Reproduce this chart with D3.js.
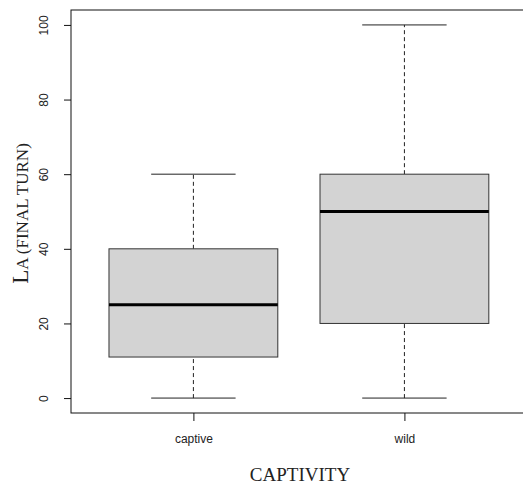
<!DOCTYPE html>
<html>
<head>
<meta charset="utf-8">
<script src="https://cdn.jsdelivr.net/npm/d3@7/dist/d3.min.js"></script>
<style>
  html, body { margin: 0; padding: 0; background: #fff; }
  svg { display: block; }
</style>
</head>
<body>
<svg id="chart" width="523" height="486"></svg>
<script>
// ---- data ----
const categories = ["captive", "wild"];
const whiskerLow  = [0, 0];
const q1Values    = [11, 20];
const medians     = [25, 50];
const q3Values    = [40, 60];
const whiskerHigh = [60, 100];
const yTicks      = [0, 20, 40, 60, 80, 100];

const svg = d3.select("#chart");

// plot region
const plotL = 71, plotR = 526.8, plotT = 10, plotB = 413;

const x = d3.scaleLinear().domain([0.42, 2.58]).range([plotL, plotR]);
const y = d3.scaleLinear().domain([-4, 104]).range([plotB, plotT]);

const boxHalf = 0.4;   // box width 0.8 units
const capHalf = 0.2;   // whisker cap half-width

const groups = categories.map((c, i) => ({
  cat: c, pos: i + 1,
  lo: whiskerLow[i], q1: q1Values[i], med: medians[i], q3: q3Values[i], hi: whiskerHigh[i]
}));

const g = svg.append("g");

// whiskers (dashed)
g.selectAll("line.wl").data(groups).enter().append("line")
  .attr("x1", d => x(d.pos)).attr("x2", d => x(d.pos))
  .attr("y1", d => y(d.lo)).attr("y2", d => y(d.q1))
  .attr("stroke", "#222").attr("stroke-width", 1).attr("stroke-dasharray", "4,3");
g.selectAll("line.wh").data(groups).enter().append("line")
  .attr("x1", d => x(d.pos)).attr("x2", d => x(d.pos))
  .attr("y1", d => y(d.q3)).attr("y2", d => y(d.hi))
  .attr("stroke", "#222").attr("stroke-width", 1).attr("stroke-dasharray", "4,3");

// caps
g.selectAll("line.cl").data(groups).enter().append("line")
  .attr("x1", d => x(d.pos - capHalf)).attr("x2", d => x(d.pos + capHalf))
  .attr("y1", d => y(d.lo)).attr("y2", d => y(d.lo))
  .attr("stroke", "#222").attr("stroke-width", 1);
g.selectAll("line.ch").data(groups).enter().append("line")
  .attr("x1", d => x(d.pos - capHalf)).attr("x2", d => x(d.pos + capHalf))
  .attr("y1", d => y(d.hi)).attr("y2", d => y(d.hi))
  .attr("stroke", "#222").attr("stroke-width", 1);

// boxes
g.selectAll("rect.box").data(groups).enter().append("rect")
  .attr("x", d => x(d.pos - boxHalf))
  .attr("width", d => x(d.pos + boxHalf) - x(d.pos - boxHalf))
  .attr("y", d => y(d.q3))
  .attr("height", d => y(d.q1) - y(d.q3))
  .attr("fill", "#d3d3d3").attr("stroke", "#333").attr("stroke-width", 1);

// medians
g.selectAll("line.med").data(groups).enter().append("line")
  .attr("x1", d => x(d.pos - boxHalf)).attr("x2", d => x(d.pos + boxHalf))
  .attr("y1", d => y(d.med)).attr("y2", d => y(d.med))
  .attr("stroke", "#000").attr("stroke-width", 3);

// plot frame
svg.append("rect")
  .attr("x", plotL).attr("y", plotT)
  .attr("width", plotR - plotL).attr("height", plotB - plotT)
  .attr("fill", "none").attr("stroke", "#111").attr("stroke-width", 1);

// y axis
const yAxis = svg.append("g")
  .attr("transform", `translate(${plotL},0)`)
  .call(d3.axisLeft(y).tickValues(yTicks).tickSize(7).tickFormat(d3.format("d")));
yAxis.select(".domain").remove();
yAxis.selectAll(".tick line").attr("stroke", "#111");
yAxis.selectAll(".tick text")
  .attr("x", null).attr("dy", null)
  .attr("text-anchor", "middle")
  .attr("transform", "translate(-23.5,0) rotate(-90)")
  .attr("font-family", "'Liberation Sans', Arial, sans-serif")
  .attr("font-size", 12).attr("fill", "#222");

// x axis
const xAxis = svg.append("g")
  .attr("transform", `translate(0,${plotB})`)
  .call(d3.axisBottom(x).tickValues([1, 2]).tickSize(8)
    .tickFormat(d => categories[d - 1]));
xAxis.select(".domain").remove();
xAxis.selectAll(".tick line").attr("stroke", "#111");
xAxis.selectAll(".tick text")
  .attr("y", 30).attr("dy", null)
  .attr("font-family", "'Liberation Sans', Arial, sans-serif")
  .attr("font-size", 12).attr("fill", "#222");

// axis titles
svg.append("text")
  .attr("x", 300).attr("y", 481)
  .attr("text-anchor", "middle")
  .attr("font-family", "'Liberation Serif', 'Times New Roman', serif")
  .attr("font-size", 19).attr("fill", "#222")
  .text("CAPTIVITY");

const yl = svg.append("text")
  .attr("transform", `translate(28,${(plotT + plotB) / 2 + 2}) rotate(-90)`)
  .attr("text-anchor", "middle")
  .attr("font-family", "'Liberation Serif', 'Times New Roman', serif")
  .attr("fill", "#222");
yl.append("tspan").attr("font-size", 23).text("L");
yl.append("tspan").attr("font-size", 17).text("A (FINAL TURN)");
</script>
</body>
</html>
